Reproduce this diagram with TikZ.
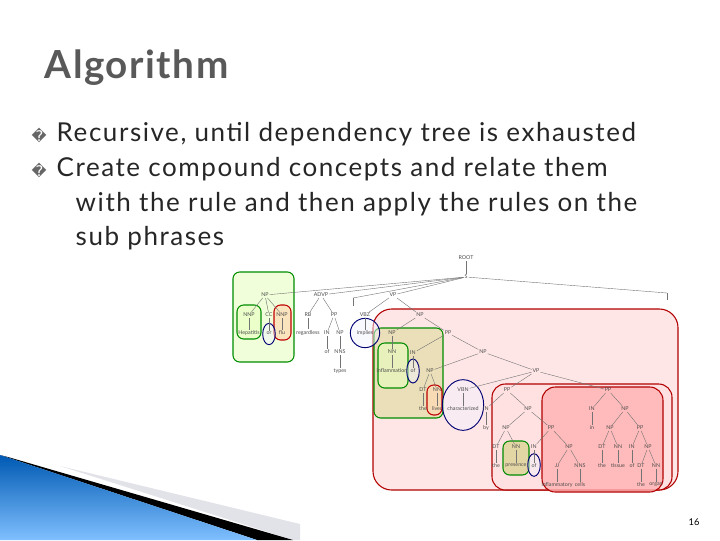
\documentclass[tikz,border=0pt]{standalone}
\usepackage{fontspec}
\setmainfont{Lato}
\newfontfamily\djv{DejaVu Sans}
\newfontfamily\wide[LetterSpace=6]{Lato}
\newfontfamily\ttl[LetterSpace=4]{Lato}
\usetikzlibrary{shapes.geometric}
\begin{document}
\begin{tikzpicture}[x=0.75pt,y=-0.75pt,
  lab/.style={font=\fontsize{4}{4.5}\selectfont, text=black!70, inner sep=0.6pt},
  e/.style={draw=black!55, line width=0.3pt},
  gbox/.style={draw=green!55!black, line width=0.8pt, rounded corners=5pt, fill=green!40!yellow!25, fill opacity=0.6},
  rbox/.style={draw=red!75!black, line width=0.8pt, rounded corners=5pt, fill=orange!30, fill opacity=0.7},
  pbox/.style={draw=red!70!black, line width=0.8pt, rounded corners=14pt, fill=red!12, fill opacity=0.8},
  bel/.style={draw=blue!45!black, line width=0.7pt, ellipse, fill=blue!5, fill opacity=0.5},
  bul/.style={font=\djv\fontsize{11}{12}\selectfont, text=black!60},
  btxt/.style={font=\wide\fontsize{19.5}{20}\selectfont, text=black!85, anchor=base west}]
\useasboundingbox (0,0) rectangle (720,540);
% swoosh
\fill[blue!15!gray!20] (60,466) -- (300,524) -- (300,540) -- (293,540) -- cycle;
\fill[black] (8,457) -- (293,540) -- (257,540) -- (0,455) -- cycle;
\shade[left color=cyan!50!blue!70!black, right color=cyan!50!blue!50, shading angle=0] (0,455) -- (257,540) -- (0,540) -- cycle;
% title
\node[anchor=base west, font=\ttl\bfseries\fontsize{29}{30}\selectfont, text=black!65] (title) at (40,78) {Algorithm};
\node[bul, anchor=base west] (b1) at (27,141) {�};
\node[btxt] (t1) at (52,141) {Recursive, until dependency tree is exhausted};
\node[bul, anchor=base west] (b2) at (27,176) {�};
\node[btxt] (t2) at (52,176) {Create compound concepts and relate them};
\node[btxt] (t3) at (71,211) {with the rule and then apply the rules on the};
\node[btxt] (t4) at (71,245) {sub phrases};
\node[font=\fontsize{7}{8}\selectfont] (pg) at (694,522) {16};
% boxes
\draw[gbox] (233,272) rectangle (294,362);
\draw[pbox] (373,309) rectangle (678,490);
\draw[gbox, fill=olive!30] (374,328) rectangle (443,418);
\draw[gbox] (378,343) rectangle (408,388);
\draw[pbox, rounded corners=10pt] (492,384) rectangle (672,490);
\draw[pbox, rounded corners=10pt, fill=red!30] (542,387) rectangle (663,492);
\draw[gbox] (237,305) rectangle (261,339);
\draw[rbox] (274,305) rectangle (291,340);
\draw[rbox] (427,385) rectangle (442,415);
\draw[gbox, fill=olive!40] (503,441) rectangle (529,475);
\node[bel, minimum width=9pt, minimum height=16pt] (e1) at (269,334) {};
\node[bel, minimum width=22pt, minimum height=22pt] (e2) at (365,333) {};
\node[bel, minimum width=9pt, minimum height=18pt] (e3) at (413,371) {};
\node[bel, minimum width=31pt, minimum height=38pt] (e4) at (463,405) {};
\node[bel, minimum width=7pt, minimum height=17pt] (e5) at (534,465) {};
% tree
\node[lab] (root) at (466,258) {ROOT};
\node[lab] (s) at (466,277) {S};
\node[lab] (np1) at (265,295) {NP};
\node[lab] (advp) at (321,295) {ADVP};
\coordinate (comma) at (353,298);
\coordinate (comma2) at (353,306);
\node[lab] (vp1) at (393,295) {VP};
\coordinate (dot) at (667,293);
\coordinate (dot2) at (667,300);
\node[lab] (nnp1) at (249,315) {NNP};
\node[lab] (cc) at (269,315) {CC};
\node[lab] (nnp2) at (282,315) {NNP};
\node[lab] (w1) at (249,333) {Hepatitis};
\node[lab] (w2) at (269,333) {or};
\node[lab] (w3) at (282,333) {flu};
\node[lab] (rb) at (308,315) {RB};
\node[lab] (pp1) at (334,315) {PP};
\node[lab] (w4) at (308,333) {regardless};
\node[lab] (in1) at (327,333) {IN};
\node[lab] (np2) at (340,333) {NP};
\node[lab] (w5) at (327,352) {of};
\node[lab] (nns1) at (340,352) {NNS};
\node[lab] (w6) at (340,371) {types};
\node[lab] (vbz) at (365,315) {VBZ};
\node[lab] (w7) at (365,333) {implies};
\node[lab] (np3) at (420,315) {NP};
\node[lab] (np4) at (392,333) {NP};
\node[lab] (pp2) at (448,333) {PP};
\node[lab] (nn1) at (392,352) {NN};
\node[lab] (w8) at (392,371) {inflammation};
\node[lab] (in2) at (413,353) {IN};
\node[lab] (w9) at (413,371) {of};
\node[lab] (np5) at (483,352) {NP};
\node[lab] (np6) at (430,371) {NP};
\node[lab] (vp2) at (536,371) {VP};
\node[lab] (dt1) at (423,390) {DT};
\node[lab] (nn2) at (437,390) {NN};
\node[lab] (w10) at (423,409) {the};
\node[lab] (w11) at (437,409) {liver};
\node[lab] (vbn) at (463,390) {VBN};
\node[lab] (w12) at (463,409) {characterized};
\node[lab] (pp3) at (507,390) {PP};
\node[lab] (pp4) at (608,390) {PP};
\node[lab] (in3) at (486,409) {IN};
\node[lab] (w13) at (486,428) {by};
\node[lab] (np7) at (528,409) {NP};
\node[lab] (np8) at (506,428) {NP};
\node[lab] (pp5) at (551,428) {PP};
\node[lab] (dt2) at (496,447) {DT};
\node[lab] (nn3) at (516,447) {NN};
\node[lab] (w14) at (496,466) {the};
\node[lab] (w15) at (516,466) {presence};
\node[lab] (in4) at (534,447) {IN};
\node[lab] (w16) at (534,466) {of};
\node[lab] (np9) at (569,447) {NP};
\node[lab] (jj) at (557,466) {JJ};
\node[lab] (nns2) at (580,466) {NNS};
\node[lab] (w17) at (557,485) {inflammatory};
\node[lab] (w18) at (580,485) {cells};
\node[lab] (in5) at (592,409) {IN};
\node[lab] (w19) at (592,428) {in};
\node[lab] (np10) at (625,409) {NP};
\node[lab] (np11) at (610,428) {NP};
\node[lab] (pp6) at (640,428) {PP};
\node[lab] (dt3) at (602,447) {DT};
\node[lab] (nn4) at (618,447) {NN};
\node[lab] (w20) at (602,466) {the};
\node[lab] (w21) at (618,466) {tissue};
\node[lab] (in6) at (632,447) {IN};
\node[lab] (w22) at (632,466) {of};
\node[lab] (np12) at (648,447) {NP};
\node[lab] (dt4) at (641,466) {DT};
\node[lab] (nn5) at (656,466) {NN};
\node[lab] (w23) at (641,485) {the};
\node[lab] (w24) at (656,485) {organ};
\foreach \a/\b in {root/s,s/np1,s/advp,s/vp1,np1/nnp1,np1/cc,np1/nnp2,nnp1/w1,cc/w2,nnp2/w3,
  advp/rb,advp/pp1,rb/w4,pp1/in1,pp1/np2,in1/w5,np2/nns1,nns1/w6,vp1/vbz,vp1/np3,vbz/w7,
  np3/np4,np3/pp2,np4/nn1,nn1/w8,pp2/in2,pp2/np5,in2/w9,np5/np6,np5/vp2,np6/dt1,np6/nn2,dt1/w10,nn2/w11,
  vp2/vbn,vp2/pp3,vp2/pp4,vbn/w12,pp3/in3,pp3/np7,in3/w13,np7/np8,np7/pp5,np8/dt2,np8/nn3,dt2/w14,nn3/w15,
  pp5/in4,pp5/np9,in4/w16,np9/jj,np9/nns2,jj/w17,nns2/w18,pp4/in5,pp4/np10,in5/w19,np10/np11,np10/pp6,
  np11/dt3,np11/nn4,dt3/w20,nn4/w21,pp6/in6,pp6/np12,in6/w22,np12/dt4,np12/nn5,dt4/w23,nn5/w24}
  \draw[e] (\a) -- (\b);
\draw[e] (s) -- (comma);
\draw[e] (comma) -- (comma2);
\draw[e] (s) -- (dot);
\draw[e] (dot) -- (dot2);
\end{tikzpicture}
\end{document}
